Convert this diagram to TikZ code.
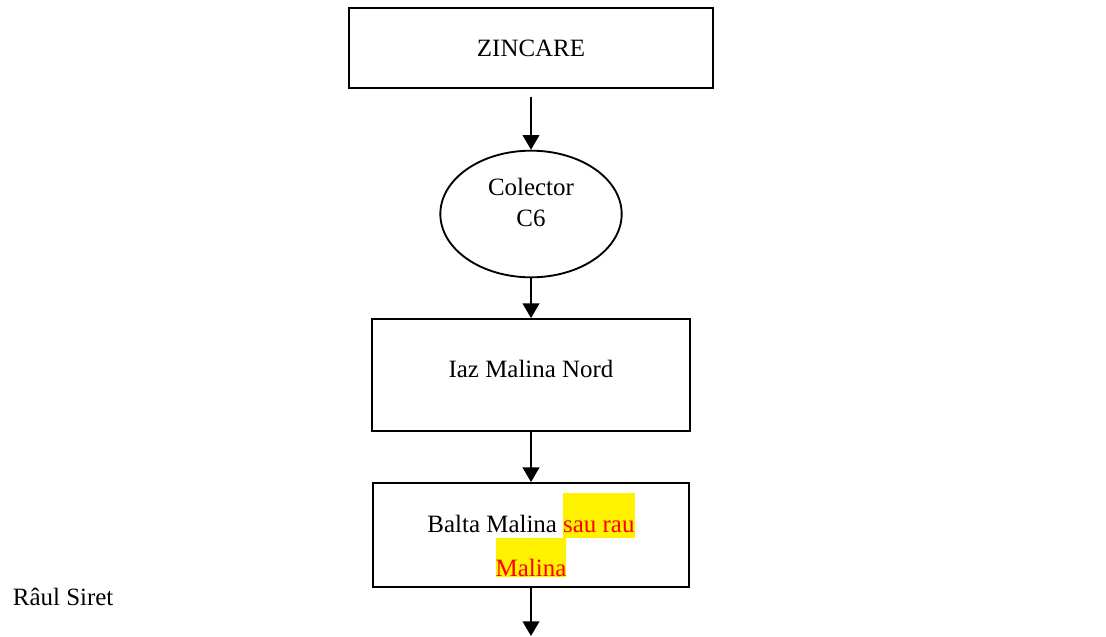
\documentclass[tikz,border=0pt]{standalone}
\usepackage{fontspec}
\setmainfont{Liberation Serif}
\usetikzlibrary{arrows.meta,shapes.geometric}

\newcommand{\marked}[2]{{\setlength{\fboxsep}{0pt}\colorbox{yellow}{#1\textcolor{red}{#2}}}}

\begin{document}
\begin{tikzpicture}[x=0.75pt,y=-0.75pt,->,>={Triangle[length=11pt,width=12.5pt]},line width=1.4pt,
  box node/.style={rectangle,draw,align=center,font=\fontsize{18.7}{23.25}\selectfont},
  oval node/.style={ellipse,draw,minimum width=136pt,minimum height=95pt},
  plain node/.style={align=center,font=\fontsize{18.7}{23.25}\selectfont}]

  \useasboundingbox (0,0) rectangle (1106,636);

  \node[box node,minimum width=273pt,minimum height=60pt] (zinc) at (531,48) {ZINCARE};
  \node[oval node] (c6) at (531,214) {};
  \node[plain node] (c6text) at (531,202) {Colector\\C6};
  \node[box node,minimum width=239pt,minimum height=84pt,text depth=9pt] (iaz) at (531,375) {Iaz Malina Nord};
  \node[box node,minimum width=237pt,minimum height=78pt,font=\fontsize{18.7}{33}\selectfont] (balta) at (531,535)
    {Balta Malina \marked{\rule[-4.5pt]{0pt}{33.75pt}}{sau rau}\\\marked{\rule[-0.75pt]{0pt}{29.25pt}}{Malina}};
  \node[plain node,anchor=base west,inner sep=0pt] (siret) at (12,605) {Râul Siret};
  \coordinate (out) at (531,636);

  \path (zinc) edge[shorten <=6pt] (c6)
        (c6) edge (iaz)
        (iaz) edge (balta)
        (balta) edge (out);
\end{tikzpicture}
\end{document}
